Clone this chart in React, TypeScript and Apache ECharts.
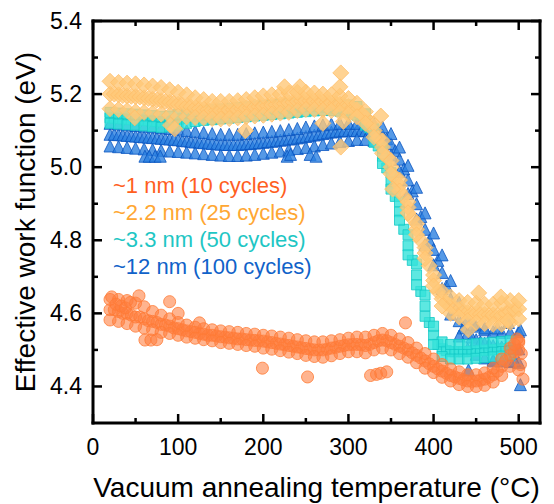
import React, { useEffect, useRef } from "react";
import * as echarts from "echarts";

// Temperature grids (°C)
const temps5 = [
  20, 25, 30, 35, 40, 45, 50, 55, 60, 65, 70, 75, 80, 85, 90, 95, 100, 105, 110, 115,
  120, 125, 130, 135, 140, 145, 150, 155, 160, 165, 170, 175, 180, 185, 190, 195, 200, 205, 210, 215,
  220, 225, 230, 235, 240, 245, 250, 255, 260, 265, 270, 275, 280, 285, 290, 295, 300, 305, 310, 315,
  320, 325, 330, 335, 340, 345, 350, 355, 360, 365, 370, 375, 380, 385, 390, 395, 400, 405, 410, 415,
  420, 425, 430, 435, 440, 445, 450, 455, 460, 465, 470, 475, 480, 485, 490, 495, 500,
];
const temps10 = [
  20, 30, 40, 50, 60, 70, 80, 90, 100, 110, 120, 130, 140, 150, 160, 170, 180, 190, 200, 210,
  220, 230, 240, 250, 260, 270, 280, 290, 300, 310, 320, 330, 340, 350, 360, 370, 380, 390, 400, 410,
  420, 430, 440, 450, 460, 470, 480, 490, 500,
];

// ~1 nm (10 cycles)
const nm1Mid = [
  4.61, 4.61, 4.605, 4.6, 4.6, 4.595, 4.59, 4.59, 4.585, 4.58, 4.578, 4.575, 4.57, 4.568, 4.565, 4.56, 4.558, 4.555, 4.552, 4.55,
  4.548, 4.545, 4.543, 4.54, 4.54, 4.538, 4.536, 4.535, 4.533, 4.532, 4.53, 4.53, 4.528, 4.527, 4.526, 4.525, 4.524, 4.522, 4.52, 4.518,
  4.516, 4.514, 4.512, 4.51, 4.508, 4.506, 4.504, 4.502, 4.5, 4.5, 4.5, 4.502, 4.505, 4.507, 4.51, 4.512, 4.514, 4.515, 4.515, 4.514,
  4.512, 4.515, 4.52, 4.525, 4.527, 4.525, 4.52, 4.515, 4.51, 4.505, 4.5, 4.492, 4.485, 4.478, 4.47, 4.462, 4.455, 4.448, 4.442, 4.436,
  4.43, 4.426, 4.422, 4.418, 4.415, 4.414, 4.415, 4.417, 4.42, 4.425, 4.432, 4.442, 4.455, 4.47, 4.485, 4.495, 4.5,
];
const nm1Hi = [
  4.638, 4.638, 4.635, 4.628, 4.618, 4.605, 4.595, 4.585, 4.575, 4.568, 4.562, 4.558, 4.555, 4.552, 4.55, 4.548, 4.545, 4.543, 4.54, 4.538,
  4.535, 4.532, 4.528, 4.525, 4.522, 4.522, 4.525, 4.528, 4.532, 4.535, 4.535, 4.54, 4.545, 4.54, 4.53, 4.52, 4.505, 4.49, 4.475, 4.46,
  4.448, 4.44, 4.432, 4.432, 4.437, 4.45, 4.475, 4.505, 4.525,
];
const nm1Lo = [
  4.582, 4.578, 4.572, 4.565, 4.56, 4.555, 4.548, 4.545, 4.54, 4.535, 4.532, 4.528, 4.525, 4.52, 4.518, 4.515, 4.512, 4.51, 4.505, 4.502,
  4.498, 4.494, 4.49, 4.485, 4.482, 4.48, 4.484, 4.49, 4.495, 4.495, 4.492, 4.5, 4.505, 4.5, 4.49, 4.48, 4.465, 4.45, 4.438, 4.425,
  4.415, 4.405, 4.4, 4.4, 4.403, 4.412, 4.43, 4.455, 4.445,
];
const nm1Extra: [number, number][] = [
  [22, 4.645], [27, 4.625], [33, 4.62], [38, 4.615], [44, 4.63], [54, 4.648], [61, 4.527], [68, 4.527], [75, 4.528],
  [90, 4.632], [100, 4.6], [125, 4.574], [199, 4.45], [252, 4.426], [367, 4.574], [326, 4.43], [333, 4.433],
  [338, 4.436], [345, 4.44], [505, 4.42], [500, 4.52], [503, 4.49], [502, 4.46], [498, 4.53], [495, 4.515],
];

// ~2.2 nm (25 cycles)
const nm22Mid = [
  5.2, 5.2, 5.198, 5.196, 5.195, 5.194, 5.193, 5.192, 5.19, 5.188, 5.186, 5.184, 5.182, 5.18, 5.178, 5.175, 5.172, 5.17, 5.167, 5.165,
  5.162, 5.16, 5.158, 5.157, 5.156, 5.155, 5.155, 5.155, 5.156, 5.157, 5.158, 5.16, 5.162, 5.163, 5.165, 5.166, 5.167, 5.168, 5.17, 5.171,
  5.172, 5.174, 5.176, 5.178, 5.18, 5.181, 5.182, 5.182, 5.181, 5.18, 5.179, 5.178, 5.176, 5.174, 5.172, 5.17, 5.166, 5.162, 5.157, 5.148,
  5.136, 5.122, 5.1, 5.08, 5.055, 5.028, 5.0, 4.972, 4.95, 4.92, 4.89, 4.86, 4.83, 4.8, 4.765, 4.73, 4.69, 4.66, 4.64, 4.628,
  4.62, 4.614, 4.61, 4.606, 4.602, 4.6, 4.6, 4.598, 4.597, 4.596, 4.596, 4.595, 4.595, 4.6, 4.605, 4.61, 4.612,
];
const nm22Hi = [
  5.235, 5.232, 5.23, 5.228, 5.225, 5.222, 5.218, 5.212, 5.205, 5.198, 5.19, 5.185, 5.18, 5.18, 5.18, 5.182, 5.185, 5.19, 5.195, 5.198,
  5.2, 5.203, 5.205, 5.205, 5.203, 5.2, 5.198, 5.195, 5.188, 5.175, 5.152, 5.118, 5.072, 5.018, 4.965, 4.905, 4.845, 4.78, 4.705, 4.66,
  4.645, 4.635, 4.63, 4.628, 4.625, 4.625, 4.628, 4.635, 4.635,
];
const nm22Lo = [
  5.16, 5.158, 5.155, 5.152, 5.15, 5.148, 5.145, 5.142, 5.14, 5.138, 5.136, 5.135, 5.133, 5.132, 5.133, 5.135, 5.138, 5.14, 5.142, 5.145,
  5.148, 5.15, 5.155, 5.158, 5.158, 5.156, 5.155, 5.15, 5.145, 5.138, 5.12, 5.082, 5.038, 4.982, 4.935, 4.875, 4.815, 4.75, 4.675, 4.62,
  4.6, 4.59, 4.58, 4.575, 4.572, 4.57, 4.57, 4.575, 4.585,
];
const nm22Extra: [number, number][] = [
  [49, 5.135], [91, 5.115], [96, 5.105], [291, 5.258], [225, 5.22], [243, 5.22], [179, 5.1], [291, 5.055],
  [270, 5.12], [294, 5.125], [290, 5.22], [338, 5.14], [352, 4.94], [453, 4.656], [441, 4.555], [479, 4.645],
  [487, 4.58],
];

// ~3.3 nm (50 cycles)
const nm33Mid = [
  5.135, 5.134, 5.133, 5.132, 5.131, 5.13, 5.13, 5.129, 5.128, 5.127, 5.126, 5.125, 5.124, 5.124, 5.125, 5.127, 5.13, 5.133, 5.136, 5.138,
  5.14, 5.141, 5.142, 5.143, 5.144, 5.145, 5.146, 5.147, 5.148, 5.149, 5.15, 5.151, 5.152, 5.153, 5.154, 5.155, 5.156, 5.157, 5.158, 5.159,
  5.16, 5.161, 5.162, 5.163, 5.164, 5.165, 5.166, 5.166, 5.166, 5.165, 5.164, 5.163, 5.162, 5.161, 5.16, 5.158, 5.156, 5.153, 5.15, 5.142,
  5.128, 5.108, 5.085, 5.058, 5.03, 4.998, 4.96, 4.92, 4.878, 4.83, 4.785, 4.745, 4.705, 4.66, 4.62, 4.575, 4.54, 4.515, 4.503, 4.498,
  4.495, 4.495, 4.495, 4.495, 4.495, 4.496, 4.497, 4.498, 4.499, 4.5, 4.5, 4.501, 4.502, 4.503, 4.504,
];
const nm33Hi = [
  5.15, 5.148, 5.146, 5.145, 5.143, 5.141, 5.139, 5.14, 5.145, 5.15, 5.152, 5.155, 5.157, 5.159, 5.161, 5.163, 5.165, 5.167, 5.169, 5.17,
  5.172, 5.173, 5.174, 5.175, 5.175, 5.174, 5.173, 5.171, 5.17, 5.166, 5.146, 5.105, 5.052, 4.985, 4.905, 4.815, 4.735, 4.65, 4.565, 4.522,
  4.515, 4.515, 4.515, 4.517, 4.519, 4.521, 4.523, 4.525,
];
const nm33Lo = [
  5.12, 5.118, 5.116, 5.115, 5.113, 5.111, 5.109, 5.11, 5.115, 5.12, 5.125, 5.128, 5.13, 5.132, 5.134, 5.136, 5.138, 5.14, 5.142, 5.144,
  5.146, 5.148, 5.15, 5.152, 5.154, 5.155, 5.155, 5.153, 5.15, 5.142, 5.115, 5.068, 5.01, 4.94, 4.855, 4.76, 4.678, 4.592, 4.515, 4.482,
  4.475, 4.475, 4.475, 4.477, 4.479, 4.481, 4.483, 4.486,
];

// ~12 nm (100 cycles)
const nm12Mid = [
  5.09, 5.09, 5.089, 5.088, 5.087, 5.086, 5.085, 5.084, 5.083, 5.082, 5.081, 5.08, 5.079, 5.078, 5.077, 5.076, 5.075, 5.073, 5.072, 5.07,
  5.069, 5.068, 5.067, 5.066, 5.065, 5.064, 5.063, 5.062, 5.062, 5.062, 5.062, 5.063, 5.064, 5.065, 5.066, 5.067, 5.068, 5.07, 5.071, 5.072,
  5.074, 5.075, 5.077, 5.078, 5.08, 5.082, 5.084, 5.086, 5.088, 5.09, 5.092, 5.094, 5.096, 5.098, 5.099, 5.1, 5.1, 5.1, 5.1, 5.1,
  5.1, 5.1, 5.098, 5.094, 5.088, 5.078, 5.064, 5.045, 5.022, 4.995, 4.965, 4.935, 4.9, 4.865, 4.83, 4.8, 4.775, 4.745, 4.712, 4.675,
  4.64, 4.61, 4.58, 4.56, 4.545, 4.535, 4.528, 4.522, 4.518, 4.515, 4.512, 4.51, 4.508, 4.506, 4.505, 4.504, 4.503,
];
const nm12Hi = [
  5.12, 5.118, 5.116, 5.114, 5.112, 5.11, 5.108, 5.106, 5.104, 5.1, 5.098, 5.095, 5.092, 5.09, 5.09, 5.09, 5.092, 5.094, 5.096, 5.098,
  5.1, 5.103, 5.106, 5.11, 5.113, 5.116, 5.118, 5.12, 5.12, 5.12, 5.12, 5.118, 5.11, 5.092, 5.055, 5.005, 4.945, 4.875, 4.82, 4.76,
  4.69, 4.63, 4.585, 4.565, 4.555, 4.55, 4.548, 4.548, 4.55,
];
const nm12Lo = [
  5.058, 5.056, 5.054, 5.052, 5.05, 5.048, 5.046, 5.044, 5.043, 5.041, 5.039, 5.037, 5.035, 5.033, 5.032, 5.032, 5.033, 5.035, 5.038, 5.041,
  5.044, 5.048, 5.051, 5.054, 5.058, 5.062, 5.066, 5.07, 5.073, 5.076, 5.076, 5.073, 5.063, 5.033, 4.988, 4.928, 4.858, 4.788, 4.733, 4.668,
  4.598, 4.538, 4.503, 4.488, 4.478, 4.473, 4.47, 4.468, 4.466,
];
const nm12Extra: [number, number][] = [
  [61, 5.03], [66, 5.03], [73, 5.03], [79, 5.03], [228, 5.03], [232, 5.035], [255, 5.035], [262, 5.03],
  [441, 4.445], [447, 4.57], [460, 4.56], [475, 4.56], [488, 4.575], [502, 4.555], [502, 4.405], [470, 4.47], [495, 4.47],
];

// Axes
const X_MIN = 0;
const X_MAX = 525;
const Y_MIN = 4.3;
const Y_MAX = 5.4;
const xMajor = [0, 100, 200, 300, 400, 500];
const xMinor = [50, 150, 250, 350, 450];
const yMajor = [4.4, 4.6, 4.8, 5.0, 5.2, 5.4];
const yMinor = [4.5, 4.7, 4.9, 5.1, 5.3];

const legendLabels = ["~1 nm (10 cycles)", "~2.2 nm (25 cycles)", "~3.3 nm (50 cycles)", "~12 nm (100 cycles)"];
const legendColors = ["#ff5f1f", "#ffa733", "#1ec6c4", "#1062c9"];

const FONT = '"Liberation Sans", Arial, Helvetica, sans-serif';

function zip(ts: number[], vs: number[]): [number, number][] {
  const out: [number, number][] = [];
  for (let i = 0; i < vs.length && i < ts.length; i++) out.push([ts[i], vs[i]]);
  return out;
}

export default function App() {
  const ref = useRef<HTMLDivElement>(null);
  useEffect(() => {
    if (!ref.current) return;
    const chart = echarts.init(ref.current, undefined, { renderer: "svg" });

    const blueData = [...zip(temps5, nm12Mid), ...zip(temps10, nm12Hi), ...zip(temps10, nm12Lo), ...nm12Extra];
    const cyanData = [...zip(temps5, nm33Mid), ...zip(temps10, nm33Hi), ...zip(temps10, nm33Lo)];
    const diaData = [...zip(temps5, nm22Mid), ...zip(temps10, nm22Hi), ...zip(temps10, nm22Lo), ...nm22Extra];
    const orData = [...zip(temps5, nm1Mid), ...zip(temps10, nm1Hi), ...zip(temps10, nm1Lo), ...nm1Extra];

    chart.setOption({
      animation: false,
      grid: { left: 93, top: 21, right: 14, bottom: 81, containLabel: false, outerBoundsMode: "none" },
      xAxis: {
        type: "value",
        min: X_MIN,
        max: X_MAX,
        axisLine: { show: false },
        axisTick: { show: false },
        splitLine: { show: false },
        axisLabel: { customValues: xMajor, fontSize: 23, color: "#000", fontFamily: FONT, margin: 12 },
        name: "Vacuum annealing temperature (°C)",
        nameLocation: "middle",
        nameGap: 50,
        nameTextStyle: { fontSize: 28, color: "#000", fontFamily: FONT },
      },
      yAxis: {
        type: "value",
        min: Y_MIN,
        max: Y_MAX,
        axisLine: { show: false },
        axisTick: { show: false },
        splitLine: { show: false },
        axisLabel: {
          customValues: yMajor,
          fontSize: 23,
          color: "#000",
          fontFamily: FONT,
          margin: 11,
          formatter: (v: number) => v.toFixed(1),
        },
        name: "Effective work function (eV)",
        nameLocation: "middle",
        nameGap: 52,
        nameTextStyle: { fontSize: 28, color: "#000", fontFamily: FONT },
      },
      series: [
        {
          name: "~12 nm (100 cycles)",
          type: "scatter",
          symbol: "triangle",
          symbolSize: 12,
          data: blueData,
          itemStyle: { color: "#2a7fe0", borderColor: "#0a55c0", borderWidth: 1 },
        },
        {
          name: "~3.3 nm (50 cycles)",
          type: "scatter",
          symbol: "rect",
          symbolSize: 10,
          data: cyanData,
          itemStyle: { color: "#35e2da", borderColor: "#12c8c6", borderWidth: 1 },
        },
        {
          name: "~2.2 nm (25 cycles)",
          type: "scatter",
          symbol: "diamond",
          symbolSize: 16,
          data: diaData,
          itemStyle: { color: "#ffc878", borderColor: "#ffbe68", borderWidth: 1 },
        },
        {
          name: "~1 nm (10 cycles)",
          type: "scatter",
          symbol: "circle",
          symbolSize: 12,
          data: orData,
          itemStyle: { color: "rgba(255,125,60,0.72)", borderColor: "#ff7a35", borderWidth: 1 },
        },
      ],
    });

    // Frame and inward ticks as filled rectangles, positioned through the chart's own scales
    const toPx = (x: number, y: number) => chart.convertToPixel({ gridIndex: 0 }, [x, y]) as number[];
    const [xl, yb] = toPx(X_MIN, Y_MIN);
    const [xr, yt] = toPx(X_MAX, Y_MAX);
    const lw = 3;
    const tw = 2.5;
    const rect = (x: number, y: number, width: number, height: number) => ({
      type: "rect",
      silent: true,
      z: 100,
      shape: { x, y, width, height },
      style: { fill: "#000" },
    });
    const frame: any[] = [
      rect(xl - lw / 2, yt - lw / 2, lw, yb - yt + lw),
      rect(xr - lw / 2, yt - lw / 2, lw, yb - yt + lw),
      rect(xl - lw / 2, yt - lw / 2, xr - xl + lw, lw),
      rect(xl - lw / 2, yb - lw / 2, xr - xl + lw, lw),
    ];
    const xTick = (v: number, len: number) => {
      const px = toPx(v, Y_MIN)[0];
      frame.push(rect(px - tw / 2, yb - len, tw, len));
      frame.push(rect(px - tw / 2, yt, tw, len));
    };
    const yTick = (v: number, len: number) => {
      const py = toPx(X_MIN, v)[1];
      frame.push(rect(xl, py - tw / 2, len, tw));
      frame.push(rect(xr - len, py - tw / 2, len, tw));
    };
    xMajor.forEach((v) => xTick(v, 9));
    xMinor.forEach((v) => xTick(v, 5));
    yMajor.forEach((v) => yTick(v, 9));
    yMinor.forEach((v) => yTick(v, 5));

    const legendTexts = legendLabels.map((t, i) => ({
      type: "text",
      z: 100,
      x: 113,
      y: 185 + i * 27.3,
      style: {
        text: t,
        fill: legendColors[i],
        fontSize: 22,
        fontFamily: FONT,
        verticalAlign: "middle",
        align: "left",
      },
    }));

    chart.setOption({ graphic: [...frame, ...legendTexts] });
    return () => chart.dispose();
  }, []);
  return <div ref={ref} style={{ position: "fixed", left: 0, top: 0, width: 554, height: 504, background: "#fff" }} />;
}
